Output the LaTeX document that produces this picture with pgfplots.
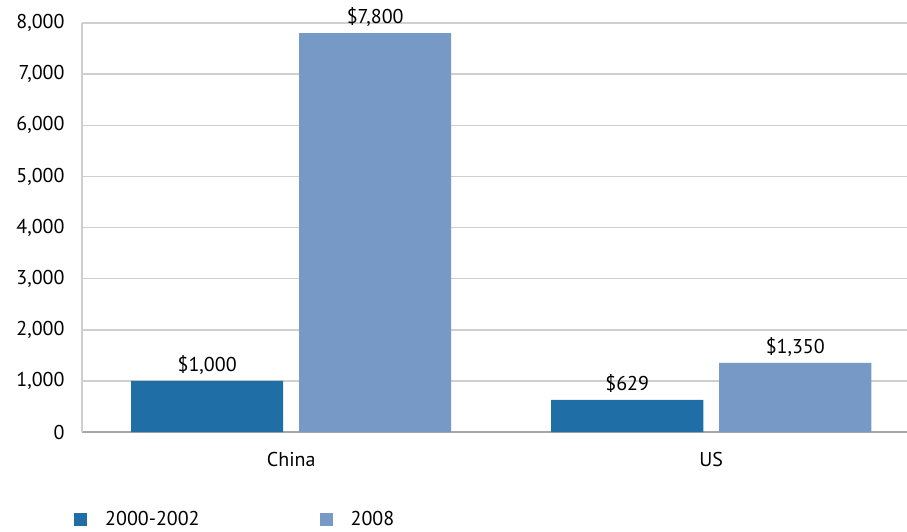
\documentclass[border=0pt]{standalone}
\usepackage{pgfplots}
\pgfplotsset{compat=1.18}
\usepackage{fontspec}
\setmainfont{PT Sans}
\definecolor{cDark}{HTML}{1F6EA5}
\definecolor{cLight}{HTML}{7799C6}
\definecolor{cGrid}{HTML}{CFCFCF}
\definecolor{cBase}{HTML}{A6A6A6}
\begin{document}
\begin{tikzpicture}[x=1pt,y=1pt]
\path[use as bounding box] (0,0) rectangle (907,531);
\begin{axis}[
  at={(82pt,99pt)}, anchor=south west,
  scale only axis, width=825pt, height=409pt,
  xmin=-0.498, xmax=1.466, ymin=0, ymax=8000,
  ybar, bar width=0.362,
  xtick={0,1}, xticklabels={China,US},
  xtick style={draw=none}, ytick={0,1000,...,8000},
  ytick style={draw=none},
  ymajorgrids, grid style={cGrid, line width=1.5pt},
  axis x line*=bottom, axis y line*=left,
  x axis line style={cBase, line width=1.2pt},
  y axis line style={cGrid, line width=1.5pt},
  /pgf/number format/assume math mode=true,
  /pgf/number format/1000 sep={,},
  ticklabel style={font=\fontsize{20}{22}\selectfont, text=black},
  yticklabel style={xshift=-14pt},
  xticklabel style={yshift=-12pt},
  nodes near coords={\$\pgfmathprintnumber{\pgfplotspointmeta}},
  every node near coord/.append style={font=\fontsize{20}{22}\selectfont, anchor=center, yshift=16pt, text=black},
  legend style={at={(-8pt,-87pt)}, anchor=west, draw=none, fill=none, inner sep=0pt,
    font=\fontsize{20}{22}\selectfont, legend columns=2,
    /tikz/every even column/.append style={column sep=118pt}},
  legend image code/.code={\fill[#1] (0pt,-6.5pt) rectangle (13pt,6.5pt); \path[draw=none,fill=none] (0pt,-6.5pt) rectangle (29pt,6.5pt);},
  legend cell align=left,
]
\addplot[fill=cDark, draw=none, bar shift=-0.2] coordinates {(0,1000) (1,629)};
\addplot[fill=cLight, draw=none, bar shift=0.2] coordinates {(0,7800) (1,1350)};
\legend{2000-2002, 2008}
\end{axis}
\end{tikzpicture}
\end{document}
